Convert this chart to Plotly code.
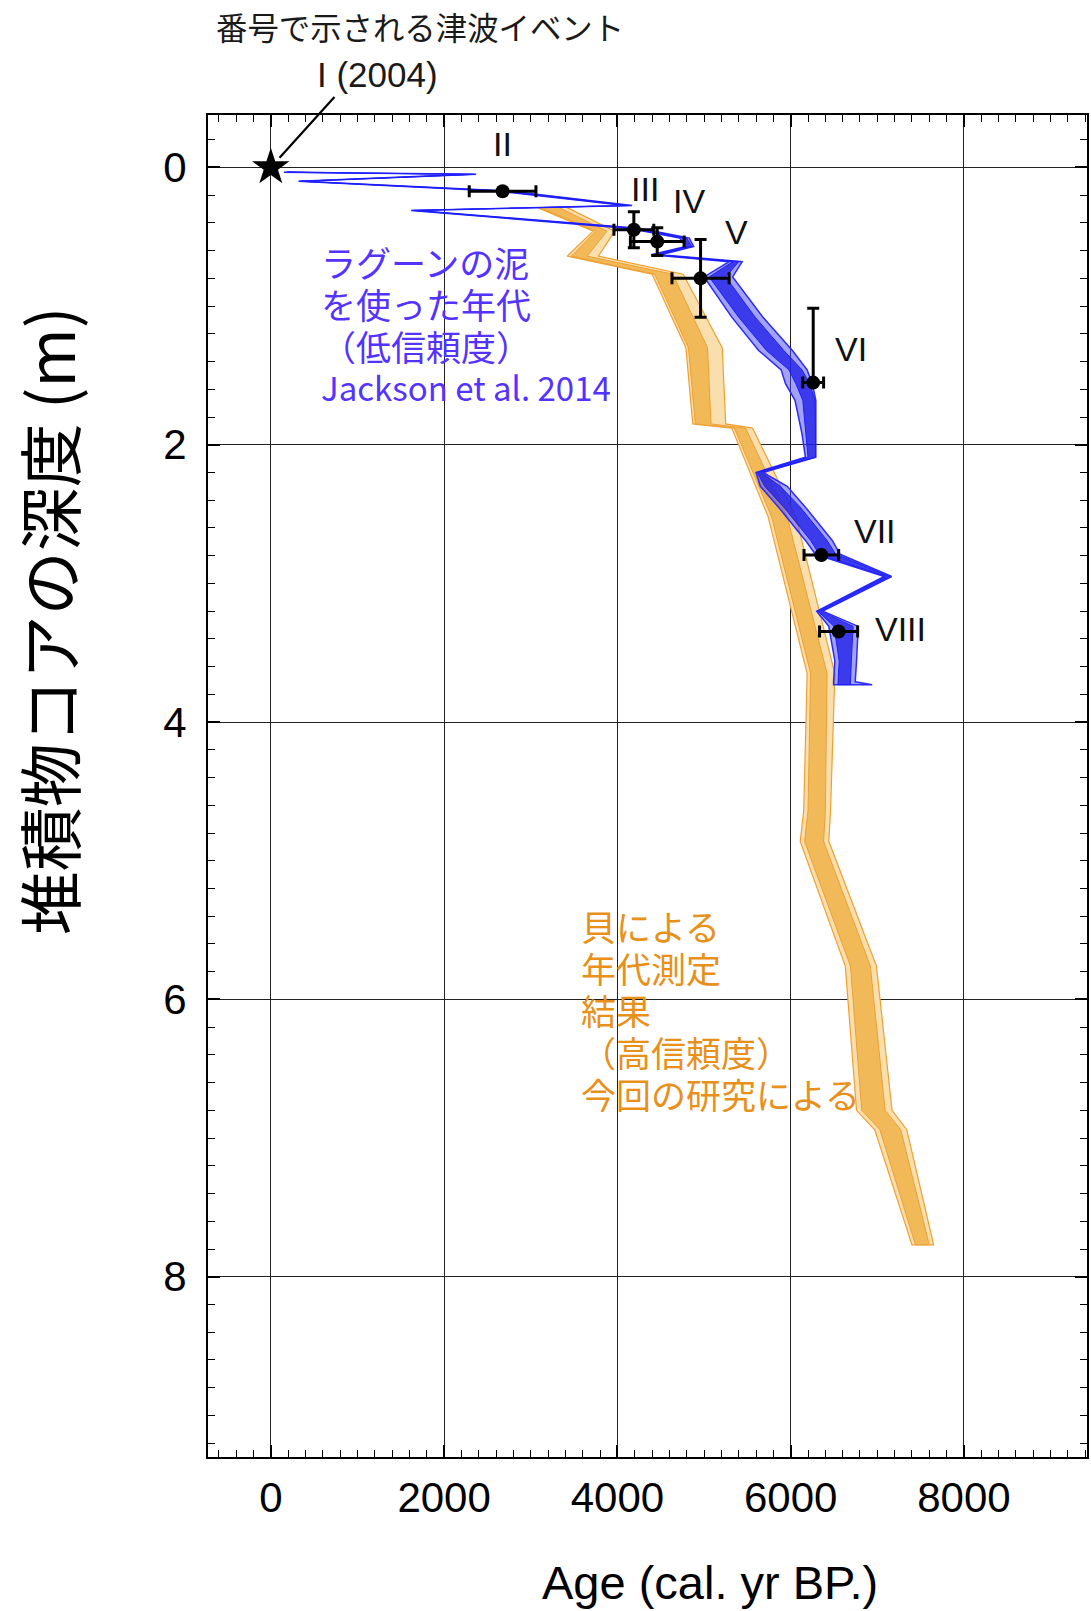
import plotly.graph_objects as go

# ---------------- data ----------------
# Shell-based age model (this study): depth (m) and age envelopes (cal. yr BP)
shell_depth = [0.29, 0.46, 0.64, 0.77, 1.30, 1.85, 1.88, 2.52, 3.65, 4.64, 4.86, 5.76, 6.80, 6.94, 7.77]
shell_lo95 = [3080, 3720, 3420, 4400, 4790, 4870, 5320, 5740, 6190, 6150, 6110, 6630, 6760, 6970, 7400]
shell_lo68 = [3110, 3750, 3470, 4430, 4820, 4900, 5350, 5780, 6230, 6200, 6160, 6690, 6820, 7030, 7440]
shell_hi68 = [3330, 3880, 3650, 4640, 5040, 5080, 5480, 5960, 6420, 6400, 6380, 6920, 7090, 7270, 7600]
shell_hi95 = [3420, 3970, 3780, 4760, 5210, 5250, 5560, 6060, 6510, 6460, 6440, 6990, 7170, 7340, 7650]

# Lagoon-mud age model (Jackson et al. 2014)
mud_depth = [0.035, 0.05, 0.10, 0.17, 0.275, 0.31, 0.44, 0.51, 0.57, 0.63, 0.68, 0.79, 1.08, 1.32, 1.46,
             1.56, 1.68, 1.92, 2.09, 2.20, 2.30, 2.45, 2.69, 2.79, 2.95, 3.20, 3.31, 3.56, 3.71, 3.73]
mud_lo95 = [150, 2300, 320, 2600, 4090, 1620, 4140, 4720, 4790, 4390, 5290, 5000, 5320, 5630, 5890,
            5940, 6050, 6130, 6170, 5600, 5650, 5860, 6170, 6285, 7080, 6300, 6440, 6510, 6495, 6495]
mud_lo68 = [160, 2320, 330, 2640, 4110, 1635, 4170, 4750, 4810, 4410, 5330, 5060, 5400, 5720, 5980,
            6060, 6140, 6180, 6200, 5615, 5700, 5920, 6230, 6330, 7100, 6315, 6500, 6560, 6545, 6545]
mud_hi68 = [180, 2350, 350, 2710, 4150, 1660, 4240, 4800, 4860, 4470, 5400, 5250, 5590, 5920, 6130,
            6220, 6280, 6285, 6285, 5660, 5880, 6110, 6420, 6520, 7140, 6350, 6720, 6700, 6690, 6690]
mud_hi95 = [190, 2370, 360, 2740, 4170, 1675, 4270, 4830, 4880, 4500, 5440, 5330, 5680, 6020, 6190,
            6250, 6290, 6290, 6290, 5680, 5960, 6170, 6480, 6570, 7165, 6370, 6780, 6760, 6745, 6940]

# Tsunami events II-VIII
event_names = ["II", "III", "IV", "V", "VI", "VII", "VIII"]
event_age = [2675, 4190, 4460, 4960, 6260, 6354, 6553]
event_depth = [0.172, 0.45, 0.535, 0.80, 1.552, 2.795, 3.347]
event_age_err = [385, 230, 310, 330, 120, 200, 220]
event_depth_err_plus = [0, 0.13, 0.10, 0.28, 0, 0, 0]
event_depth_err_minus = [0, 0.13, 0.10, 0.28, 0.536, 0, 0]

# Event I (2004)
event1_age = [0]
event1_depth = [0]

x_ticks = [0, 2000, 4000, 6000, 8000]
y_ticks = [0, 2, 4, 6, 8]

# label anchor positions for roman numerals (age, depth)
label_age = [2671, 4318, 4830, 5373, 6700, 6972, 7267]
label_depth = [-0.17, 0.155, 0.24, 0.463, 1.31, 2.62, 3.33]

mud_text_lines = ["ラグーンの泥", "を使った年代", "（低信頼度）", "Jackson et al. 2014"]
shell_text_lines = ["貝による", "年代測定", "結果", "（高信頼度）", "今回の研究による"]

# ---------------- figure ----------------
W, H = 1091, 1611
ML, MR, MT, MB = 208, 2, 115, 154

LAT = "Liberation Sans, Arial, Helvetica, sans-serif"
CJK = "Noto Sans CJK JP"


def band(lo, hi, depth):
    return list(lo) + list(hi)[::-1], list(depth) + list(depth)[::-1]


fig = go.Figure()

# orange (shell) bands
bx, by = band(shell_lo95, shell_hi95, shell_depth)
fig.add_trace(go.Scatter(x=bx, y=by, fill="toself", fillcolor="#F9DEAE", mode="lines",
                         line=dict(color="#F0A030", width=1.2), hoverinfo="skip", showlegend=False))
bx, by = band(shell_lo68, shell_hi68, shell_depth)
fig.add_trace(go.Scatter(x=bx, y=by, fill="toself", fillcolor="#F1B957", mode="lines",
                         line=dict(color="#EDA035", width=1), hoverinfo="skip", showlegend=False))

# blue (lagoon mud) bands
bx, by = band(mud_lo95, mud_hi95, mud_depth)
fig.add_trace(go.Scatter(x=bx, y=by, fill="toself", fillcolor="rgba(70,70,240,0.5)", mode="lines",
                         line=dict(color="#2A2AFF", width=1.5), hoverinfo="skip", showlegend=False))
bx, by = band(mud_lo68, mud_hi68, mud_depth)
fig.add_trace(go.Scatter(x=bx, y=by, fill="toself", fillcolor="rgba(30,30,232,0.78)", mode="lines",
                         line=dict(color="#1E1EFF", width=1), hoverinfo="skip", showlegend=False))

# events with error bars
fig.add_trace(go.Scatter(
    x=event_age, y=event_depth, mode="markers",
    marker=dict(color="black", size=14),
    error_x=dict(type="data", array=event_age_err, color="black", thickness=3, width=6),
    error_y=dict(type="data", array=event_depth_err_plus, arrayminus=event_depth_err_minus,
                 symmetric=False, color="black", thickness=3, width=6),
    hoverinfo="skip", showlegend=False))

# event I star
fig.add_trace(go.Scatter(x=event1_age, y=event1_depth, mode="markers",
                         marker=dict(symbol="star", size=28, color="black"),
                         hoverinfo="skip", showlegend=False))

annotations = []
for name, ax_, ay_ in zip(event_names, label_age, label_depth):
    annotations.append(dict(x=ax_, y=ay_, xref="x", yref="y", text=name, showarrow=False,
                            xanchor="center", yanchor="middle",
                            font=dict(family=LAT, size=34, color="#111111")))

# arrow to event I
annotations.append(dict(x=event1_age[0], y=event1_depth[0], xref="x", yref="y", text="",
                        showarrow=True, arrowhead=0, arrowwidth=2.2, arrowcolor="black",
                        ax=65, ay=-72, axref="pixel", ayref="pixel", standoff=13))


def px_x(p):
    return (p - ML) / (W - ML - MR)


def px_y(p):
    return (H - MB - p) / (H - MT - MB)


# blue note, one annotation per line (pitch 42 px)
mud_sizes = [35, 35, 35, 33]
for i, line in enumerate(mud_text_lines):
    annotations.append(dict(x=px_x(319), y=px_y(261 + 42 * i), xref="paper", yref="paper",
                            text=line, showarrow=False, xanchor="left", yanchor="middle",
                            font=dict(family=CJK, size=mud_sizes[i], color="#5533FF")))

# orange note
for i, line in enumerate(shell_text_lines):
    annotations.append(dict(x=px_x(580), y=px_y(925 + 42 * i), xref="paper", yref="paper",
                            text=line, showarrow=False, xanchor="left", yanchor="middle",
                            font=dict(family=CJK, size=35, color="#E8901A")))

annotations += [
    dict(x=px_x(420), y=px_y(26), xref="paper", yref="paper", text="番号で示される津波イベント",
         showarrow=False, xanchor="center", yanchor="middle",
         font=dict(family=CJK, size=31.4, color="#1a1a1a")),
    dict(x=px_x(378), y=px_y(75), xref="paper", yref="paper", text="I (2004)",
         showarrow=False, xanchor="center", yanchor="middle",
         font=dict(family=LAT, size=35, color="#1a1a1a")),
    dict(x=px_x(711), y=px_y(1582), xref="paper", yref="paper", text="Age (cal. yr BP.)",
         showarrow=False, xanchor="center", yanchor="middle",
         font=dict(family=LAT, size=47, color="black")),
    dict(x=px_x(47), y=px_y(621), xref="paper", yref="paper", text="堆積物コアの深度 (m)",
         showarrow=False, xanchor="center", yanchor="middle", textangle=-90,
         font=dict(family=CJK, size=64, color="black")),
]

fig.update_layout(
    width=W, height=H,
    margin=dict(l=ML, r=MR, t=MT, b=MB, pad=0),
    paper_bgcolor="white", plot_bgcolor="white",
    showlegend=False,
    annotations=annotations,
)

fig.update_xaxes(
    range=[-725, 9420], tickvals=x_ticks, ticktext=[str(v) for v in x_ticks],
    ticks="inside", ticklen=12, tickwidth=1.5, tickcolor="black",
    showgrid=True, gridcolor="#222222", gridwidth=1.2, zeroline=False,
    showline=True, linecolor="black", linewidth=2, mirror="allticks",
    minor=dict(ticks="inside", dtick=200, tick0=0, ticklen=7, tickwidth=1.2,
               tickcolor="black", showgrid=False),
    tickfont=dict(family=LAT, size=42, color="black"),
    ticklabelstandoff=3,
)
fig.update_yaxes(
    range=[9.30, -0.378], tickvals=y_ticks, ticktext=[str(v) for v in y_ticks],
    ticks="inside", ticklen=12, tickwidth=1.5, tickcolor="black",
    showgrid=True, gridcolor="#222222", gridwidth=1.2, zeroline=False,
    showline=True, linecolor="black", linewidth=2, mirror="allticks",
    minor=dict(ticks="inside", dtick=0.2, tick0=0, ticklen=7, tickwidth=1.2,
               tickcolor="black", showgrid=False),
    tickfont=dict(family=LAT, size=42, color="black"),
    ticklabelstandoff=11,
)

fig.write_html("out.html")
